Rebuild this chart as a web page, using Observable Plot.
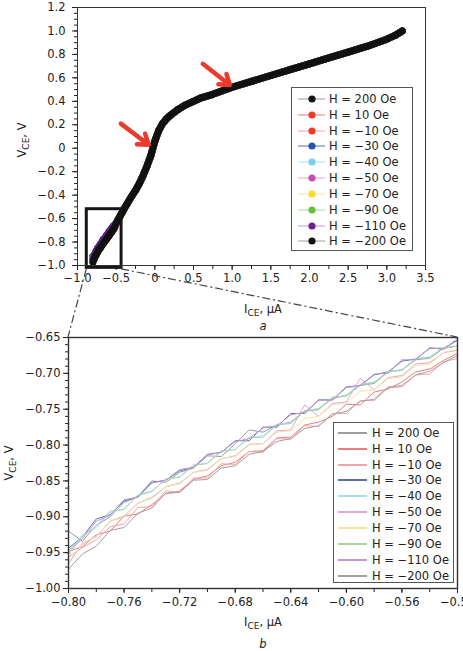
<!DOCTYPE html>
<html>
<head>
<meta charset="utf-8">
<script src="https://cdn.jsdelivr.net/npm/d3@7"></script>
<script src="https://cdn.jsdelivr.net/npm/@observablehq/plot@0.6"></script>
<style>
  html, body { margin: 0; padding: 0; background: #fff; overflow: hidden; }
  #root { position: relative; width: 463px; height: 651px; font-family: "DejaVu Sans", sans-serif; color: #222; }
  #root > svg { position: absolute; left: 0; }
  .lbl { position: absolute; transform: translate(-50%, -50%); white-space: nowrap; font-size: 11.5px; }
  .lbl sub { font-size: 9px; vertical-align: -3px; line-height: 0; }
  .rot { transform: translate(-50%, -50%) rotate(-90deg); }
  .panel { font-style: italic; }
  .legend { position: absolute; background: #fff; border: 1px solid #555; box-sizing: border-box; }
  .legend .row { position: absolute; left: 0; height: 14px; transform: translateY(-50%); display: flex; align-items: center; font-size: 11.5px; white-space: nowrap; }
  .legend svg { display: block; }
</style>
</head>
<body>
<div id="root"></div>
<script>
// Magnetic field of each sweep
const fields = ["H = 200 Oe", "H = 10 Oe", "H = −10 Oe", "H = −30 Oe", "H = −40 Oe",
                "H = −50 Oe", "H = −70 Oe", "H = −90 Oe", "H = −110 Oe", "H = −200 Oe"];

// Marker colours (panel a) and line colours (both panels)
const markerColors = ["#111111", "#f03a26", "#f03a26", "#2456b0", "#72d2f0",
                      "#c24fb0", "#f6dc22", "#62c040", "#6a2090", "#111111"];
const lineColors = ["#9c9c9c", "#f07a7a", "#f5a3a8", "#5b6bb8", "#a6e0f0",
                    "#e3a6d6", "#f5e39a", "#a8d8a0", "#c497d9", "#a0a0a0"];

// Low-current region, I_CE in µA
const zoomCurrent = [-0.80, -0.79, -0.78, -0.77, -0.76, -0.75, -0.74, -0.73, -0.72, -0.71,
                     -0.70, -0.69, -0.68, -0.67, -0.66, -0.65, -0.64, -0.63, -0.62, -0.61,
                     -0.60, -0.59, -0.58, -0.57, -0.56, -0.55, -0.54, -0.53, -0.52];

// V_CE in V for each field over zoomCurrent
const v200  = [-0.920,-0.934,-0.912,-0.900,-0.880,-0.872,-0.850,-0.852,-0.838,-0.832,-0.815,-0.816,-0.798,-0.779,-0.782,-0.772,-0.768,-0.752,-0.750,-0.735,-0.731,-0.717,-0.714,-0.698,-0.695,-0.681,-0.679,-0.665,-0.662];
const v10   = [-0.948,-0.942,-0.925,-0.920,-0.899,-0.896,-0.883,-0.868,-0.864,-0.848,-0.843,-0.829,-0.824,-0.809,-0.808,-0.790,-0.789,-0.772,-0.768,-0.760,-0.743,-0.744,-0.726,-0.722,-0.712,-0.698,-0.694,-0.682,-0.672];
const vm10  = [-0.956,-0.943,-0.932,-0.914,-0.910,-0.887,-0.886,-0.864,-0.866,-0.846,-0.846,-0.826,-0.827,-0.809,-0.810,-0.791,-0.792,-0.773,-0.774,-0.756,-0.756,-0.738,-0.738,-0.720,-0.719,-0.702,-0.701,-0.684,-0.679];
const vm30  = [-0.944,-0.928,-0.903,-0.897,-0.878,-0.872,-0.852,-0.849,-0.836,-0.831,-0.813,-0.810,-0.794,-0.794,-0.775,-0.775,-0.756,-0.756,-0.737,-0.737,-0.719,-0.717,-0.702,-0.698,-0.683,-0.680,-0.665,-0.665,-0.654];
const vm40  = [-0.951,-0.925,-0.915,-0.894,-0.889,-0.869,-0.864,-0.848,-0.844,-0.828,-0.825,-0.808,-0.806,-0.789,-0.787,-0.771,-0.769,-0.752,-0.749,-0.734,-0.730,-0.715,-0.712,-0.697,-0.695,-0.679,-0.677,-0.664,-0.662];
const vm50  = [-0.966,-0.937,-0.928,-0.906,-0.899,-0.881,-0.873,-0.858,-0.853,-0.838,-0.834,-0.819,-0.815,-0.799,-0.798,-0.780,-0.779,-0.744,-0.760,-0.742,-0.740,-0.707,-0.723,-0.706,-0.703,-0.687,-0.685,-0.671,-0.668];
const vm70  = [-0.962,-0.939,-0.927,-0.906,-0.901,-0.880,-0.875,-0.858,-0.854,-0.838,-0.835,-0.819,-0.816,-0.800,-0.798,-0.782,-0.780,-0.763,-0.760,-0.744,-0.741,-0.725,-0.723,-0.707,-0.705,-0.689,-0.687,-0.671,-0.666];
const vm90  = [-0.953,-0.927,-0.913,-0.892,-0.890,-0.870,-0.865,-0.847,-0.845,-0.828,-0.826,-0.809,-0.806,-0.790,-0.789,-0.772,-0.770,-0.753,-0.751,-0.733,-0.732,-0.716,-0.713,-0.698,-0.696,-0.680,-0.678,-0.664,-0.662];
const vm110 = [-0.947,-0.931,-0.906,-0.898,-0.876,-0.873,-0.853,-0.849,-0.834,-0.831,-0.814,-0.810,-0.795,-0.791,-0.776,-0.773,-0.758,-0.754,-0.738,-0.737,-0.720,-0.717,-0.701,-0.700,-0.681,-0.681,-0.664,-0.667,-0.651];
const vm200 = [-0.973,-0.952,-0.941,-0.919,-0.915,-0.895,-0.888,-0.867,-0.866,-0.849,-0.848,-0.832,-0.829,-0.813,-0.809,-0.795,-0.791,-0.777,-0.773,-0.757,-0.753,-0.739,-0.736,-0.719,-0.717,-0.702,-0.697,-0.685,-0.675];
const zoomVoltage = [v200, v10, vm10, vm30, vm40, vm50, vm70, vm90, vm110, vm200];

// Rest of the I–V curve (all fields coincide here)
const tailCurrent = [-0.50,-0.45,-0.40,-0.35,-0.30,-0.25,-0.20,-0.15,-0.10,-0.05,0.00,0.05,0.10,0.15,0.20,
                     0.30,0.40,0.50,0.60,0.75,1.00,1.25,1.50,1.75,2.00,2.25,2.50,2.75,3.00,3.10,3.20];
const tailVoltage = [-0.64,-0.58,-0.52,-0.465,-0.41,-0.36,-0.30,-0.23,-0.15,-0.06,0.06,0.15,0.21,0.25,0.28,
                     0.33,0.37,0.40,0.43,0.46,0.52,0.57,0.62,0.67,0.72,0.77,0.82,0.87,0.93,0.96,1.00];

// Axis ticks
const ticksXA = [-1.0, -0.5, 0, 0.5, 1.0, 1.5, 2.0, 2.5, 3.0, 3.5];
const ticksYA = [-1.0, -0.8, -0.6, -0.4, -0.2, 0, 0.2, 0.4, 0.6, 0.8, 1.0, 1.2];
const ticksXB = [-0.80, -0.76, -0.72, -0.68, -0.64, -0.60, -0.56, -0.52];
const ticksYB = [-1.00, -0.95, -0.90, -0.85, -0.80, -0.75, -0.70, -0.65];

// Outlined region of panel a and the two pointers
const zoomBox = [{x1: -0.88, x2: -0.43, y1: -1.02, y2: -0.52}];
const pointers = [
  {x1: -0.44, y1: 0.21, x2: -0.08, y2: 0.03},
  {x1: 0.62, y1: 0.72, x2: 0.97, y2: 0.54}
];

const zoomRows = fields.flatMap((f, s) => zoomCurrent.map((x, i) => ({s, x, y: zoomVoltage[s][i]})));
const fullRows = fields.flatMap((f, s) => [
  ...zoomCurrent.map((x, i) => ({s, x, y: zoomVoltage[s][i]})),
  ...tailCurrent.map((x, i) => ({s, x, y: tailVoltage[i]}))
]);

const fmt1 = d => Math.abs(d) < 1e-9 ? "0" : d3.format(".1f")(d);
const fmt2 = d => d3.format(".2f")(d);
const axisStyle = {fontFamily: "DejaVu Sans", fontSize: "11.5px", color: "#222", background: "transparent", overflow: "visible"};

// Panel a: full I–V characteristic
const topMarks = [];
fields.forEach((f, s) => {
  const d = fullRows.filter(r => r.s === s);
  topMarks.push(Plot.line(d, {x: "x", y: "y", stroke: markerColors[s], strokeWidth: 7, strokeLinejoin: "round", strokeLinecap: "round"}));
  topMarks.push(Plot.dot(d, {x: "x", y: "y", r: 3.2, fill: markerColors[s]}));
});

const chartA = Plot.plot({
  width: 463, height: 300,
  marginLeft: 77, marginRight: 38, marginTop: 7, marginBottom: 35,
  style: axisStyle,
  x: {domain: [-1, 3.5]},
  y: {domain: [-1, 1.2]},
  marks: [
    Plot.axisY(d3.range(-1, 1.2001, 0.05), {tickSize: 3, tickFormat: () => "", label: null}),
    Plot.axisY(ticksYA, {tickSize: 5, tickPadding: 7, tickFormat: fmt1, label: null}),
    Plot.axisX(d3.range(-1, 3.5001, 0.25), {tickSize: 4, tickFormat: () => "", label: null}),
    Plot.axisX(ticksXA, {tickSize: 5, tickPadding: 3, tickFormat: fmt1, label: null}),
    ...topMarks,
    Plot.rect(zoomBox, {x1: "x1", x2: "x2", y1: "y1", y2: "y2", fill: "none", stroke: "#151515", strokeWidth: 3}),
    Plot.arrow(pointers, {x1: "x1", y1: "y1", x2: "x2", y2: "y2", stroke: "#ec3a2c", strokeWidth: 4.5, headLength: 11, headAngle: 70}),
    Plot.frame({stroke: "#333", strokeWidth: 1})
  ]
});
chartA.style.top = "0px";

// Panel b: low-current region
const chartB = Plot.plot({
  width: 463, height: 351,
  marginLeft: 68, marginRight: 6, marginTop: 37, marginBottom: 63,
  style: axisStyle,
  x: {domain: [-0.80, -0.52]},
  y: {domain: [-1.00, -0.65]},
  marks: [
    Plot.axisY(d3.range(-1.0, -0.6499, 0.01), {tickSize: 3, tickFormat: () => "", label: null}),
    Plot.axisY(ticksYB, {tickSize: 5, tickPadding: 3, tickFormat: fmt2, label: null}),
    Plot.axisX(d3.range(-0.80, -0.5199, 0.02), {tickSize: 4, tickFormat: () => "", label: null}),
    Plot.axisX(ticksXB, {tickSize: 5, tickPadding: 4, tickFormat: fmt2, label: null}),
    ...fields.map((f, s) => Plot.line(zoomRows.filter(r => r.s === s), {x: "x", y: "y", stroke: lineColors[s], strokeWidth: 1})),
    Plot.frame({stroke: "#333", strokeWidth: 1.4})
  ]
});
const offsetB = 300;
chartB.style.top = offsetB + "px";

const root = document.getElementById("root");
root.append(chartA, chartB);

// Dash-dot connectors from the outlined region to panel b
const xa = chartA.scale("x"), ya = chartA.scale("y");
const xb = chartB.scale("x"), yb = chartB.scale("y");
const ns = "http://www.w3.org/2000/svg";
const over = document.createElementNS(ns, "svg");
over.setAttribute("width", 463); over.setAttribute("height", 651);
over.style.position = "absolute"; over.style.left = "0"; over.style.top = "0"; over.style.pointerEvents = "none";
const bx = zoomBox[0];
const links = [
  [xa.apply(bx.x1), ya.apply(bx.y1) + 1.5, xb.apply(xb.domain[0]), yb.apply(yb.domain[1]) + offsetB],
  [xa.apply(bx.x2), ya.apply(bx.y1) + 1.5, xb.apply(xb.domain[1]), yb.apply(yb.domain[1]) + offsetB]
];
for (const [x1, y1, x2, y2] of links) {
  const l = document.createElementNS(ns, "line");
  l.setAttribute("x1", x1); l.setAttribute("y1", y1);
  l.setAttribute("x2", x2); l.setAttribute("y2", y2);
  l.setAttribute("stroke", "#444"); l.setAttribute("stroke-width", "1.2");
  l.setAttribute("stroke-dasharray", "8 3 2 3");
  over.appendChild(l);
}
root.appendChild(over);

// Axis titles and panel letters
function label(html, x, y, cls) {
  const d = document.createElement("div");
  d.className = "lbl " + (cls || "");
  d.innerHTML = html;
  d.style.left = x + "px"; d.style.top = y + "px";
  root.appendChild(d);
}
label("V<sub>CE</sub>, V", 22, 140, "rot");
label("I<sub>CE</sub>, μA", 263, 309);
label("a", 263, 326, "panel");
label("V<sub>CE</sub>, V", 9, 463, "rot");
label("I<sub>CE</sub>, μA", 263, 622);
label("b", 263, 644, "panel");

// Legends
function legend(left, top, w, h, firstRow, step, withDot) {
  const box = document.createElement("div");
  box.className = "legend";
  Object.assign(box.style, {left: left + "px", top: top + "px", width: w + "px", height: h + "px"});
  fields.forEach((f, s) => {
    const row = document.createElement("div");
    row.className = "row";
    row.style.top = (firstRow + s * step) + "px";
    const sw = document.createElementNS(ns, "svg");
    const swW = withDot ? 37 : 38;
    sw.setAttribute("width", swW); sw.setAttribute("height", 10);
    const ln = document.createElementNS(ns, "line");
    ln.setAttribute("x1", withDot ? 6 : 4); ln.setAttribute("x2", 33);
    ln.setAttribute("y1", 5); ln.setAttribute("y2", 5);
    ln.setAttribute("stroke", lineColors[s]); ln.setAttribute("stroke-width", withDot ? 1 : 2);
    sw.appendChild(ln);
    if (withDot) {
      const c = document.createElementNS(ns, "circle");
      c.setAttribute("cx", 20); c.setAttribute("cy", 5); c.setAttribute("r", 3.6);
      c.setAttribute("fill", markerColors[s]);
      sw.appendChild(c);
    }
    const t = document.createElement("span");
    t.textContent = f;
    row.append(sw, t);
    box.appendChild(row);
  });
  root.appendChild(box);
}
legend(291, 87, 122, 164, 11, 15.82, true);
legend(333, 422, 121, 161, 9.7, 15.92, false);
</script>
</body>
</html>
